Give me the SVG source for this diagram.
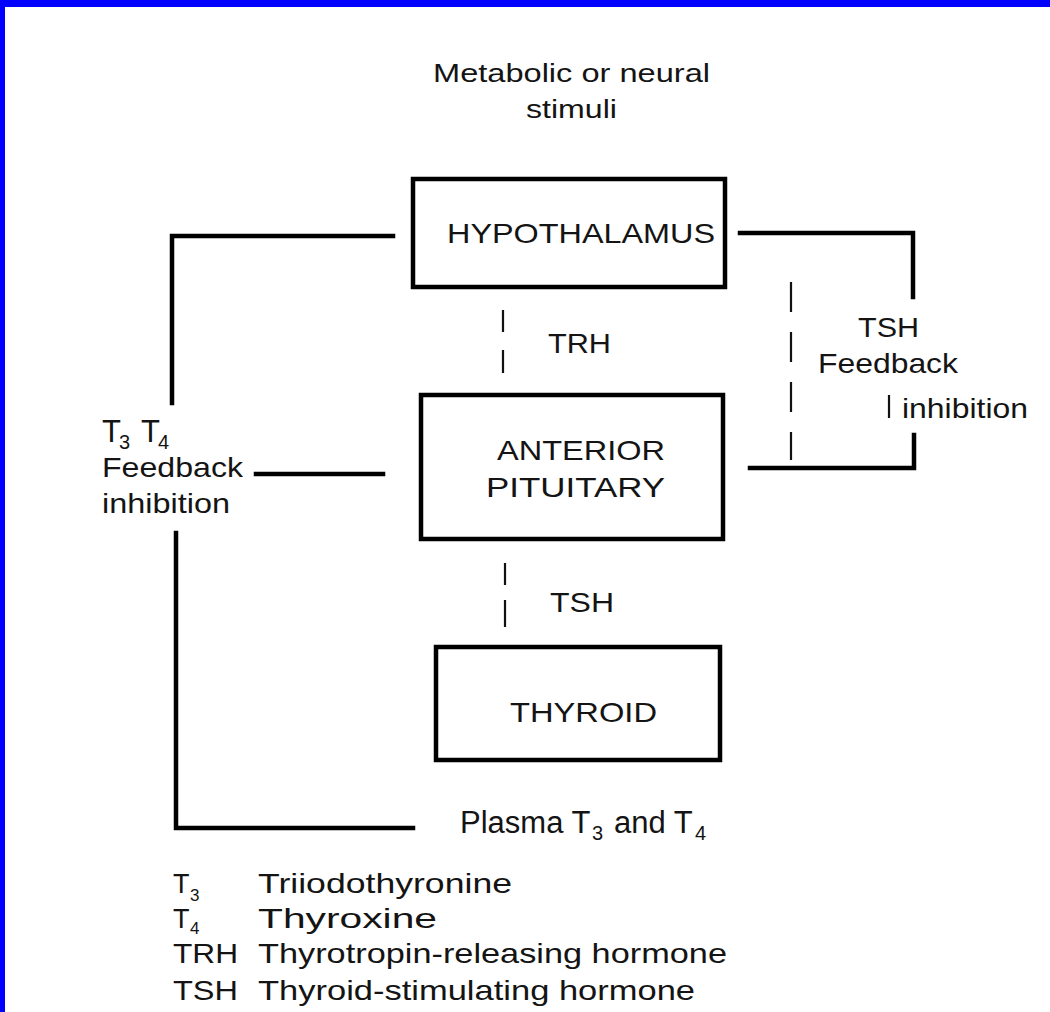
<svg xmlns="http://www.w3.org/2000/svg" width="1050" height="1012" viewBox="0 0 1050 1012">
<style>
text{font-family:"Liberation Sans",Arial,Helvetica,sans-serif;fill:#141414;}
.t26{font-size:26px;}
.t28{font-size:28px;}
.sub{font-size:20px;}
.lsub{font-size:17px;}
.box{fill:#fff;stroke:#000;stroke-width:4.5;}
.ln{fill:none;stroke:#000;stroke-width:4.5;stroke-linecap:square;}
.dash{fill:none;stroke:#111;stroke-width:2.2;}
</style>
<rect x="0" y="0" width="1050" height="1012" fill="#fff"/>
<rect x="0" y="0" width="1050" height="7" fill="#0000ff"/>
<rect x="0" y="0" width="5" height="1012" fill="#0000ff"/>

<g id="connectors">
  <path class="ln" d="M393 236 H172 V403"/>
  <path class="ln" d="M256 474 H383"/>
  <path class="ln" d="M176 533 V828 H413"/>
  <path class="ln" d="M740 233 H913 V297"/>
  <path class="ln" d="M914 435 V468 H750"/>
  <line class="dash" x1="503" y1="310" x2="503" y2="332"/>
  <line class="dash" x1="503" y1="350" x2="503" y2="373"/>
  <line class="dash" x1="505" y1="563" x2="505" y2="585"/>
  <line class="dash" x1="505" y1="600" x2="505" y2="627"/>
  <line class="dash" x1="791" y1="282" x2="791" y2="460" stroke-dasharray="30 20"/>
  <line class="dash" x1="889" y1="395" x2="889" y2="418"/>
</g>

<g id="stimuli">
  <text class="t26" x="433" y="82" textLength="277" lengthAdjust="spacingAndGlyphs">Metabolic or neural</text>
  <text class="t26" x="526" y="118" textLength="91" lengthAdjust="spacingAndGlyphs">stimuli</text>
</g>

<g id="hypothalamus">
  <rect class="box" x="413" y="179" width="312" height="108"/>
  <text class="t28" x="447" y="243" textLength="268" lengthAdjust="spacingAndGlyphs">HYPOTHALAMUS</text>
</g>

<g id="anterior-pituitary">
  <rect class="box" x="421" y="395" width="302" height="144"/>
  <text class="t28" x="497" y="460" textLength="168" lengthAdjust="spacingAndGlyphs">ANTERIOR</text>
  <text class="t28" x="486" y="497" textLength="179" lengthAdjust="spacingAndGlyphs">PITUITARY</text>
</g>

<g id="thyroid">
  <rect class="box" x="436" y="647" width="284" height="113"/>
  <text class="t28" x="510" y="722" textLength="147" lengthAdjust="spacingAndGlyphs">THYROID</text>
</g>

<g id="labels">
  <text class="t28" x="548" y="353" textLength="63" lengthAdjust="spacingAndGlyphs">TRH</text>
  <text class="t28" x="550" y="612" textLength="64" lengthAdjust="spacingAndGlyphs">TSH</text>
  <text style="font-size:31px" x="460" y="833">Plasma T<tspan class="sub" x="592" dy="7">3</tspan><tspan x="614" dy="-7">and T</tspan><tspan class="sub" x="695" dy="7">4</tspan></text>
  <text class="t28" x="858" y="337" textLength="61" lengthAdjust="spacingAndGlyphs">TSH</text>
  <text class="t28" x="818" y="373" textLength="140" lengthAdjust="spacingAndGlyphs">Feedback</text>
  <text class="t28" x="902" y="418" textLength="126" lengthAdjust="spacingAndGlyphs">inhibition</text>
  <text style="font-size:31px" x="102" y="442">T<tspan class="sub" x="119" dy="7">3</tspan><tspan x="141" dy="-7">T</tspan><tspan class="sub" x="158" dy="7">4</tspan></text>
  <text class="t28" x="102" y="477" textLength="141" lengthAdjust="spacingAndGlyphs">Feedback</text>
  <text class="t28" x="102" y="513" textLength="128" lengthAdjust="spacingAndGlyphs">inhibition</text>
</g>

<g id="legend">
  <text style="font-size:27px" x="173" y="893">T<tspan class="lsub" x="190" dy="8">3</tspan></text>
  <text style="font-size:27px" x="173" y="928">T<tspan class="lsub" x="190" dy="6">4</tspan></text>
  <text class="t28" x="173" y="963" textLength="65" lengthAdjust="spacingAndGlyphs">TRH</text>
  <text class="t28" x="173" y="1000" textLength="65" lengthAdjust="spacingAndGlyphs">TSH</text>
  <text class="t28" x="258" y="893" textLength="254" lengthAdjust="spacingAndGlyphs">Triiodothyronine</text>
  <text class="t28" x="258" y="928" textLength="179" lengthAdjust="spacingAndGlyphs">Thyroxine</text>
  <text class="t28" x="258" y="963" textLength="469" lengthAdjust="spacingAndGlyphs">Thyrotropin-releasing hormone</text>
  <text class="t28" x="258" y="1000" textLength="437" lengthAdjust="spacingAndGlyphs">Thyroid-stimulating hormone</text>
</g>
</svg>
